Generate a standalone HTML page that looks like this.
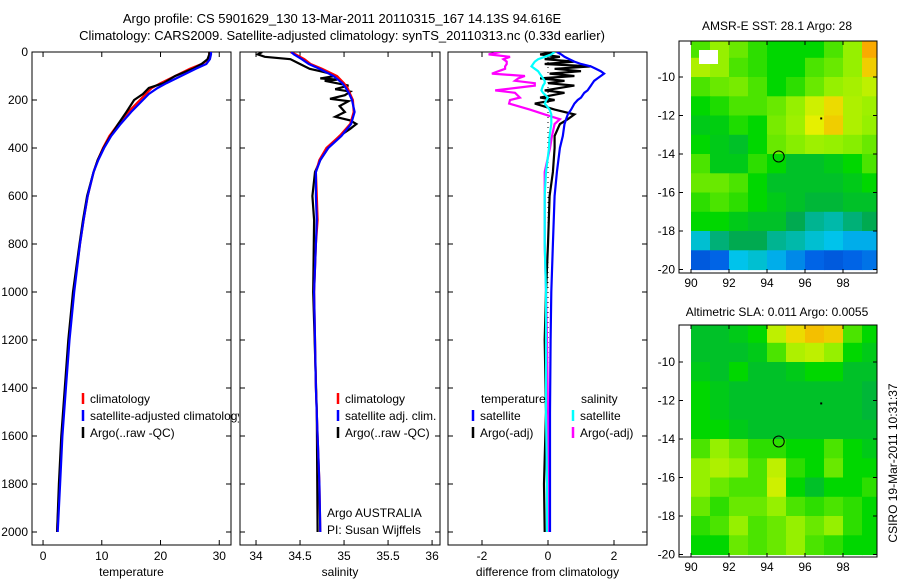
<!DOCTYPE html>
<html><head><meta charset="utf-8"><style>
html,body{margin:0;padding:0;background:#fff;}
svg{display:block;font-family:"Liberation Sans",sans-serif;}
</style></head><body>
<svg id="fig" width="900" height="580" viewBox="0 0 900 580" xmlns="http://www.w3.org/2000/svg">
<text x="342" y="23" font-size="13" text-anchor="middle">Argo profile: CS 5901629_130 13-Mar-2011 20110315_167 14.13S 94.616E</text>
<text x="342" y="40" font-size="13" text-anchor="middle">Climatology: CARS2009. Satellite-adjusted climatology: synTS_20110313.nc (0.33d earlier)</text>
<g id="layer"></g>
</svg>
<script>
// ---- profile data ----
const depths = [0,10,30,50,70,100,130,150,175,200,250,300,350,400,450,500,600,700,800,1000,1200,1400,1600,1800,2000];
const tempClim = [28.3,28.3,28.2,27,25,22.5,20,18.5,17.5,16.5,14.5,12.8,11.3,10.2,9.3,8.6,7.6,6.9,6.3,5.2,4.4,3.8,3.2,2.8,2.4];
const tempSat  = [28.6,28.6,28.4,27.8,26,23.5,21,19.5,18,17,15,13.2,11.6,10.4,9.4,8.6,7.6,6.9,6.3,5.3,4.5,3.9,3.3,2.9,2.5];
const tempArgo = [28.3,28.3,28.0,27.0,25.5,22.5,20.5,18.0,17.0,15.5,14.2,12.8,11.5,10.3,9.3,8.6,7.5,6.8,6.2,5.1,4.3,3.7,3.1,2.7,2.4];
const salClim  = [34.39,34.45,34.55,34.62,34.75,34.92,35.0,35.04,35.07,35.1,35.11,35.07,34.95,34.8,34.72,34.68,34.69,34.7,34.68,34.66,34.67,34.68,34.7,34.72,34.73];
const salSat   = [34.4,34.43,34.52,34.6,34.72,34.88,34.98,35.02,35.06,35.09,35.12,35.08,34.97,34.82,34.73,34.68,34.68,34.69,34.68,34.66,34.67,34.68,34.7,34.72,34.73];
const argoSalDepth = [0,10,20,30,50,70,80,90,100,110,115,120,140,155,165,180,195,205,225,250,270,285,300,320,350,400,450,500,600,700,1000,1500,2000];
const salArgo = [34.07,34.02,34.1,34.39,34.5,34.61,34.73,34.84,34.9,34.73,34.92,34.78,35.05,34.9,35.07,35.01,34.84,35.05,34.95,35.01,34.9,35.07,35.14,35.07,34.95,34.82,34.73,34.67,34.64,34.66,34.65,34.69,34.7];
const diffDepth = [0,10,20,30,40,50,60,70,80,90,100,110,120,130,140,160,170,190,200,215,240,260,280,300,350,400,500,600,800,1000,1200,1500,1800,2000];
const diffTempSat  = [0.27,0.4,0.5,0.65,0.8,1.0,1.3,1.45,1.6,1.7,1.6,1.5,1.4,1.35,1.3,1.2,1.1,1.0,0.9,0.8,0.7,0.6,0.55,0.5,0.45,0.36,0.27,0.2,0.15,0.1,0.08,0.06,0.06,0.06];
const diffTempArgo = [0.2,-0.24,0.36,-0.1,0.8,-0.1,1.3,0.2,1.0,0.05,0.8,-0.24,0.5,0,0.8,-0.1,0.5,-0.24,0.2,-0.4,0.2,0.8,0.6,0.36,0.2,0.2,0.15,0.05,0,-0.06,-0.1,-0.06,-0.12,-0.1];
const diffSalSat   = [0.2,0.1,-0.1,-0.3,-0.4,-0.45,-0.5,-0.4,-0.3,-0.25,-0.2,-0.15,-0.1,-0.1,-0.15,-0.2,-0.15,0,-0.05,-0.1,0.05,0.1,0.1,0.1,0.05,0.03,-0.06,-0.1,-0.1,-0.06,-0.06,-0.06,-0.03,-0.03];
const diffSalArgo  = [-1.45,-1.8,-1.15,-1.35,-1.25,-1.25,-1.3,-1.3,-1.5,-1.7,-0.7,-0.9,-1.0,-0.4,-0.4,-1.6,-1.0,-0.85,-1.15,-1.18,-0.55,-0.1,0.36,0.2,0.12,0.06,-0.1,-0.1,-0.1,-0.06,-0.03,0,0,0];
// ---- map data (rows lat -8..-20, cols lon 90..100) ----
const sstGrid = [
[0.6,0.65,0.62,0.58,0.55,0.55,0.55,0.6,0.65,0.85],
[0.68,0.65,0.6,0.58,0.55,0.55,0.6,0.62,0.65,0.8],
[0.6,0.62,0.63,0.6,0.55,0.58,0.62,0.65,0.67,0.7],
[0.55,0.57,0.6,0.6,0.62,0.65,0.72,0.78,0.68,0.66],
[0.52,0.53,0.57,0.55,0.63,0.66,0.75,0.8,0.68,0.65],
[0.55,0.52,0.5,0.55,0.62,0.64,0.66,0.65,0.64,0.62],
[0.6,0.52,0.52,0.58,0.55,0.5,0.5,0.52,0.55,0.6],
[0.62,0.62,0.6,0.55,0.5,0.5,0.5,0.5,0.52,0.55],
[0.58,0.6,0.58,0.55,0.52,0.5,0.48,0.48,0.5,0.5],
[0.55,0.55,0.52,0.5,0.5,0.45,0.4,0.38,0.42,0.45],
[0.35,0.42,0.45,0.45,0.4,0.38,0.35,0.33,0.3,0.3],
[0.18,0.2,0.33,0.35,0.3,0.25,0.2,0.18,0.2,0.22]];
const slaGrid = [
[0.5,0.5,0.52,0.55,0.7,0.78,0.82,0.8,0.6,0.55],
[0.5,0.5,0.5,0.52,0.6,0.68,0.7,0.65,0.55,0.52],
[0.52,0.5,0.55,0.5,0.5,0.52,0.55,0.55,0.5,0.5],
[0.55,0.52,0.5,0.5,0.5,0.5,0.5,0.5,0.5,0.48],
[0.55,0.52,0.5,0.5,0.5,0.5,0.5,0.5,0.5,0.48],
[0.55,0.55,0.52,0.5,0.5,0.5,0.5,0.5,0.5,0.5],
[0.6,0.65,0.62,0.58,0.58,0.55,0.55,0.6,0.55,0.52],
[0.65,0.68,0.65,0.6,0.7,0.58,0.55,0.62,0.55,0.55],
[0.65,0.62,0.6,0.6,0.72,0.55,0.5,0.55,0.55,0.58],
[0.62,0.58,0.62,0.62,0.65,0.6,0.58,0.6,0.58,0.55],
[0.58,0.6,0.65,0.6,0.62,0.65,0.62,0.65,0.58,0.55],
[0.55,0.55,0.62,0.6,0.62,0.65,0.6,0.58,0.55,0.55]];
const depthTicks = [0,200,400,600,800,1000,1200,1400,1600,1800,2000];
const tempTicks = [0,10,20,30];
const salTicks = [34,34.5,35,35.5,36];
const diffTicks = [-2,0,2];
const lonTicks = [90,92,94,96,98];
const latTicks = [-10,-12,-14,-16,-18,-20];
const argoLon = 94.616, argoLat = -14.13;

const NS="http://www.w3.org/2000/svg";
const layer=document.getElementById('layer');
function mk(tag,attrs,parent){const e=document.createElementNS(NS,tag);for(const k in attrs)e.setAttribute(k,attrs[k]);(parent||layer).appendChild(e);return e;}

const yTop=52, yBot=545;
const yD = d => yTop + d*0.24;
const panels = [
 {name:'temperature',x0:32,x1:231,vmin:-1.88,vmax:32.0,ticks:tempTicks,label:'temperature'},
 {name:'salinity',x0:240,x1:440,vmin:33.818,vmax:36.09,ticks:salTicks,label:'salinity'},
 {name:'difference',x0:448,x1:647,vmin:-3.03,vmax:3.0,ticks:diffTicks,label:'difference from climatology'}
];
panels.forEach(p=>{p.sx=v=>p.x0+(v-p.vmin)/(p.vmax-p.vmin)*(p.x1-p.x0);});

function line(p,ds,vals,color,name,clip){
  const pts=ds.map((d,i)=>p.sx(vals[i]).toFixed(1)+','+yD(d).toFixed(1)).join(' ');
  const e=mk('polyline',{points:pts,fill:'none',stroke:color,'stroke-width':2.2,'stroke-linejoin':'miter','clip-path':'url(#'+clip+')'});
  
  
}
const defs=mk('defs',{});
panels.forEach((p,i)=>{
  const cp=mk('clipPath',{id:'cp'+i},defs);
  mk('rect',{x:p.x0,y:yTop,width:p.x1-p.x0,height:yBot-yTop},cp);
});

panels.forEach((p,i)=>{
  const g=mk('g',{});
  
  
  mk('rect',{x:p.x0,y:yTop,width:p.x1-p.x0,height:yBot-yTop,fill:'none',stroke:'#000','stroke-width':1},g);
  p.ticks.forEach(t=>{
    const x=p.sx(t);
    mk('line',{x1:x,x2:x,y1:yBot,y2:yBot-5,stroke:'#000'},g);
    mk('line',{x1:x,x2:x,y1:yTop,y2:yTop+5,stroke:'#000'},g);
    const tl=mk('text',{x:x,y:560,'font-size':12,'text-anchor':'middle'},g);tl.textContent=String(t);
    
    
  });
  depthTicks.forEach(d=>{
    const y=yD(d);
    mk('line',{x1:p.x0,x2:p.x0+5,y1:y,y2:y,stroke:'#000'},g);
    mk('line',{x1:p.x1,x2:p.x1-5,y1:y,y2:y,stroke:'#000'},g);
    if(i===0){const tl=mk('text',{x:28,y:y+4,'font-size':12,'text-anchor':'end'},g);tl.textContent=String(d);
      
      }
  });
  const al=mk('text',{x:(p.x0+p.x1)/2,y:576,'font-size':12,'text-anchor':'middle'},g);al.textContent=p.label;
  
  
});
// zero dotted line
mk('line',{x1:panels[2].sx(0),x2:panels[2].sx(0),y1:yTop,y2:yD(2000),stroke:'#000','stroke-dasharray':'1,4','stroke-width':1});

line(panels[0],depths,tempClim,'#ff0000','temp-climatology-line','cp0');
line(panels[0],depths,tempArgo,'#000000','temp-argo-line','cp0');
line(panels[0],depths,tempSat,'#0000ff','temp-satellite-line','cp0');
line(panels[1],argoSalDepth,salArgo,'#000000','sal-argo-line','cp1');
line(panels[1],depths,salClim,'#ff0000','sal-climatology-line','cp1');
line(panels[1],depths,salSat,'#0000ff','sal-satellite-line','cp1');
line(panels[2],diffDepth,diffSalArgo,'#ff00ff','diff-sal-argo-line','cp2');
line(panels[2],diffDepth,diffTempArgo,'#000000','diff-temp-argo-line','cp2');
line(panels[2],diffDepth,diffTempSat,'#0000ff','diff-temp-satellite-line','cp2');
line(panels[2],diffDepth,diffSalSat,'#00ffff','diff-sal-satellite-line','cp2');

function legend(x,y,color,text,name,clip){
  mk('line',{x1:x,x2:x,y1:y-10,y2:y+1,stroke:color,'stroke-width':2.5});
  const t=mk('text',{x:x+7,y:y,'font-size':12,'clip-path':clip?'url(#'+clip+')':''});t.textContent=text;
  
  
}
legend(83,403,'#ff0000','climatology','legend-temp-climatology');
legend(83,420,'#0000ff','satellite-adjusted climatology','legend-temp-satellite','cp0w');
legend(83,437,'#000000','Argo(..raw -QC)','legend-temp-argo');
const cw=mk('clipPath',{id:'cp0w'},defs);mk('rect',{x:0,y:0,width:239,height:580},cw);
legend(338,403,'#ff0000','climatology','legend-sal-climatology');
legend(338,420,'#0000ff','satellite adj. clim.','legend-sal-satellite');
legend(338,437,'#000000','Argo(..raw -QC)','legend-sal-argo');
let t=mk('text',{x:481,y:403,'font-size':12});t.textContent='temperature';


t=mk('text',{x:581,y:403,'font-size':12});t.textContent='salinity';


legend(473,420,'#0000ff','satellite','legend-diff-temp-satellite');
legend(473,437,'#000000','Argo(-adj)','legend-diff-temp-argo');
legend(573,420,'#00ffff','satellite','legend-diff-sal-satellite');
legend(573,437,'#ff00ff','Argo(-adj)','legend-diff-sal-argo');
t=mk('text',{x:327,y:517,'font-size':12});t.textContent='Argo AUSTRALIA';


t=mk('text',{x:327,y:534,'font-size':12});t.textContent='PI: Susan Wijffels';



// ---- maps ----
const stops=[[0,[0,0,140]],[0.2,[0,100,230]],[0.33,[0,195,235]],[0.45,[0,170,80]],[0.55,[0,215,0]],[0.65,[150,240,0]],[0.75,[230,240,0]],[0.85,[250,170,0]],[1,[220,60,0]]];
function cmap(v){for(let i=1;i<stops.length;i++){if(v<=stops[i][0]){const a=stops[i-1],b=stops[i],f=(v-a[0])/(b[0]-a[0]);return 'rgb('+a[1].map((c,k)=>Math.round(c+(b[1][k]-c)*f)).join(',')+')';}}return 'rgb(220,60,0)';}

function drawMap(grid,fx0,fy0,fx1,fy1,lat0y,name,title,titleY,cid){
  const lx=lon=>691+(lon-90)*19;
  const ly=lat=>lat0y+(-10-lat)*19.25;
  const g=mk('g',{});
  
  
  const cp=mk('clipPath',{id:cid},defs);mk('rect',{x:fx0,y:fy0,width:fx1-fx0,height:fy1-fy0},cp);
  const cg=mk('g',{'clip-path':'url(#'+cid+')'},g);
  grid.forEach((row,r)=>row.forEach((v,c)=>{
    const x=lx(90+c),y=ly(-8-r);
    const cell=mk('rect',{x:x.toFixed(1),y:y.toFixed(1),width:19.6,height:19.8,fill:cmap(v)},cg);
    
    
  }));
  mk('rect',{x:fx0+1,y:fy0+1,width:lx(90)-fx0-1,height:fy1-fy0-2,fill:'#fff'},g);
  mk('rect',{x:fx0,y:fy0,width:fx1-fx0,height:fy1-fy0,fill:'none',stroke:'#000'},g);
  lonTicks.forEach(lon=>{const x=lx(lon);
    mk('line',{x1:x,x2:x,y1:fy1,y2:fy1-4,stroke:'#000'},g);
    mk('line',{x1:x,x2:x,y1:fy0,y2:fy0+4,stroke:'#000'},g);
    const tl=mk('text',{x:x,y:fy1+14,'font-size':12,'text-anchor':'middle'},g);tl.textContent=String(lon);
    
    });
  latTicks.forEach(lat=>{const y=ly(lat);
    mk('line',{x1:fx0,x2:fx0+4,y1:y,y2:y,stroke:'#000'},g);
    mk('line',{x1:fx1,x2:fx1-4,y1:y,y2:y,stroke:'#000'},g);
    const tl=mk('text',{x:fx0-4,y:y+4,'font-size':12,'text-anchor':'end'},g);tl.textContent=String(lat);
    
    });
  mk('circle',{cx:lx(argoLon),cy:ly(argoLat),r:5.5,fill:'none',stroke:'#000'},g);
  mk('rect',{x:lx(96.8),y:ly(-12.1),width:2,height:2,fill:'#000'},g);
  const tt=mk('text',{x:777,y:titleY,'font-size':12,'text-anchor':'middle'},g);tt.textContent=title;
  
  
}
drawMap(sstGrid,679,41,877,273,77,'sst-map','AMSR-E SST: 28.1 Argo: 28',30,'cpm1');
mk('rect',{x:699,y:50,width:19,height:14,fill:'#fff'});
drawMap(slaGrid,679,325,877,557,362,'sla-map','Altimetric SLA: 0.011 Argo: 0.0055',316,'cpm2');
t=mk('text',{x:0,y:0,'font-size':12,'text-anchor':'middle',transform:'translate(897,463) rotate(-90)'});t.textContent='CSIRO 19-Mar-2011 10:31:37';


</script>
</body></html>
